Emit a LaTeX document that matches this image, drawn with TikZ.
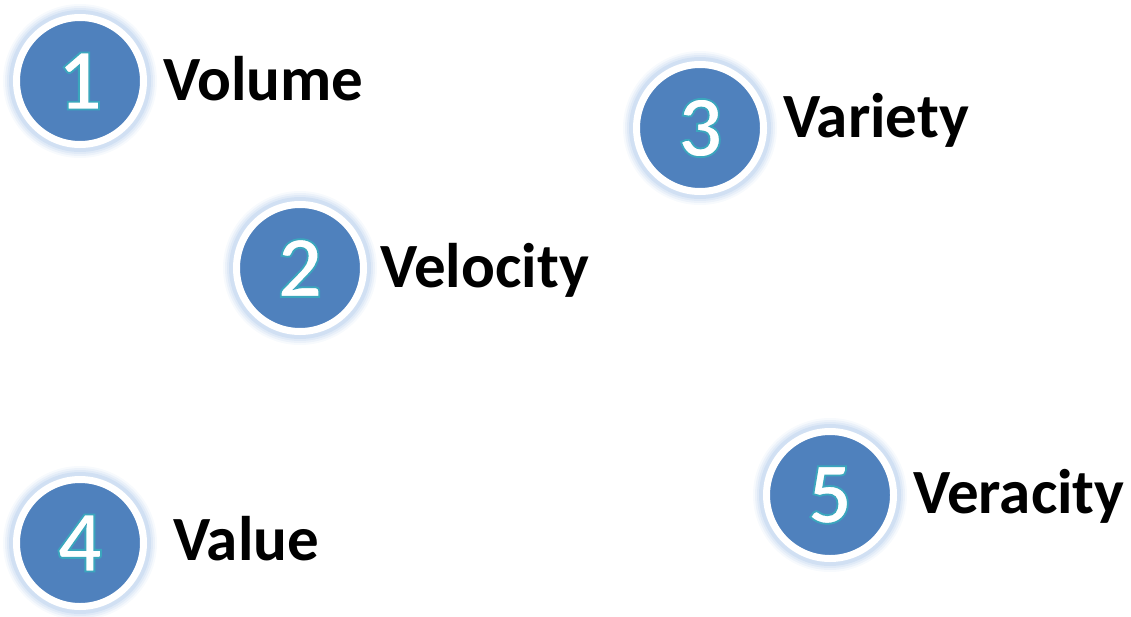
\documentclass[tikz,border=0pt]{standalone}
\usepackage{fontspec}
\setmainfont{Carlito}
\definecolor{discblue}{HTML}{4F81BD}
\definecolor{glowblue}{HTML}{8DB3E2}
\tikzset{
  disc/.style={circle, fill=discblue, draw=white, line width=7pt, minimum size=127pt, inner sep=0pt,
     font=\fontsize{88}{88}\selectfont\bfseries, text=white},
  label5v/.style={anchor=base west, inner sep=0pt, font=\fontsize{63}{63}\selectfont\bfseries, text=black},
}
\newcommand{\glowdisc}[2]{%
  \foreach \r/\o in {77/0.07,75/0.1,73/0.13,71/0.18}{
    \fill[glowblue, opacity=\o] (#1,#2) circle (\r);
  }
}
\newcommand{\dig}[1]{{\color{white}\special{pdf:code 2 Tr 1.8 w 0.23 0.65 0.74 RG}#1\special{pdf:code 0 Tr}}}
\begin{document}
\begin{tikzpicture}[x=1pt,y=-1pt]
\useasboundingbox (0,0) rectangle (1131,616);
\glowdisc{80}{81}
\glowdisc{300}{268}
\glowdisc{700}{128}
\glowdisc{80}{543}
\glowdisc{830}{495}
\node[disc] (c1) at (80,81) {\dig{1}};
\node[disc] (c2) at (300,268) {\dig{2}};
\node[disc] (c3) at (700,128) {\dig{3}};
\node[disc] (c4) at (80,543) {\dig{4}};
\node[disc] (c5) at (830,495) {\dig{5}};
\node[label5v] (t1) at (163,100) {Volume};
\node[label5v] (t2) at (380,287) {Velocity};
\node[label5v] (t3) at (783,137) {Variety};
\node[label5v] (t4) at (173,560) {Value};
\node[label5v] (t5) at (913,513) {Veracity};
\end{tikzpicture}
\end{document}
